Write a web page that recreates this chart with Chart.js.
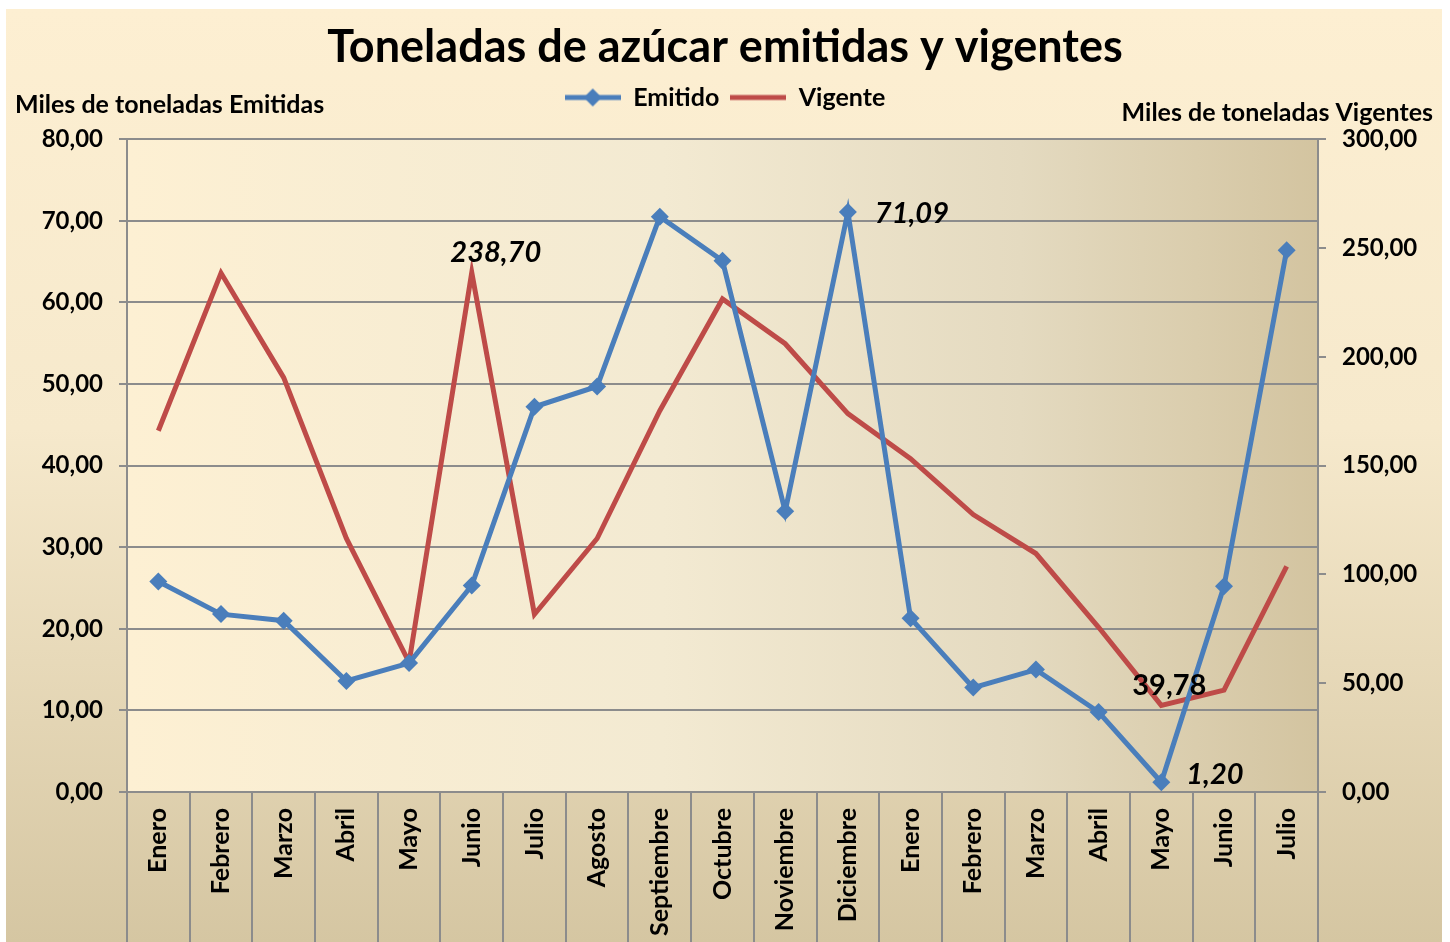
<!DOCTYPE html>
<html>
<head>
<meta charset="utf-8">
<script src="https://cdn.jsdelivr.net/npm/chart.js@4.4.0/dist/chart.umd.min.js"></script>
<style>
  html, body { margin: 0; padding: 0; background: #fff; }
</style>
</head>
<body>
<canvas id="myChart" width="1450" height="942"></canvas>
<script>
var meses = ['Enero', 'Febrero', 'Marzo', 'Abril', 'Mayo', 'Junio', 'Julio', 'Agosto',
  'Septiembre', 'Octubre', 'Noviembre', 'Diciembre',
  'Enero', 'Febrero', 'Marzo', 'Abril', 'Mayo', 'Junio', 'Julio'];

// miles de toneladas emitidas (eje izquierdo)
var emitido = [25.8, 21.8, 21.0, 13.6, 15.8, 25.3, 47.2, 49.7, 70.5, 65.1, 34.4, 71.09,
  21.3, 12.8, 15.0, 9.8, 1.20, 25.2, 66.4];

// miles de toneladas vigentes (eje derecho)
var vigente = [166.0, 238.5, 190.4, 116.5, 59.6, 238.70, 81.7, 116.5, 175.2, 226.6, 206.0, 173.9,
  153.2, 127.5, 109.6, 75.7, 39.78, 46.8, 103.7];

var ticksIzq = [0, 10, 20, 30, 40, 50, 60, 70, 80];
var ticksDer = [0, 50, 100, 150, 200, 250, 300];

var FONT = 'Lato';
var GRIS = '#8c8c8c';

function coma(v) {
  return v.toFixed(2).replace('.', ',');
}

// simbolos de la leyenda (linea + marcador)
function simbolo(color, rombo) {
  var c = document.createElement('canvas');
  c.width = 56; c.height = 20;
  var g = c.getContext('2d');
  g.strokeStyle = color;
  g.lineWidth = 5;
  g.beginPath(); g.moveTo(0, 10); g.lineTo(56, 10); g.stroke();
  if (rombo) {
    g.fillStyle = color;
    g.beginPath();
    g.moveTo(28, 1); g.lineTo(37, 10); g.lineTo(28, 19); g.lineTo(19, 10);
    g.closePath(); g.fill();
  }
  return c;
}

var fondo = {
  id: 'fondo',
  beforeDraw: function (chart) {
    var ctx = chart.ctx, a = chart.chartArea;
    ctx.save();
    ctx.fillStyle = '#fff';
    ctx.fillRect(0, 0, chart.width, chart.height);
    var g1 = ctx.createLinearGradient(0, 9, 0, chart.height);
    g1.addColorStop(0, '#fdefd2');
    g1.addColorStop(0.45, '#f6e9cc');
    g1.addColorStop(1, '#d5c6a2');
    ctx.fillStyle = g1;
    ctx.fillRect(6, 9, chart.width - 14, chart.height - 9);
    var g2 = ctx.createLinearGradient(a.left, 0, a.right, 0);
    g2.addColorStop(0, '#fdf0d3');
    g2.addColorStop(0.45, '#f3ead2');
    g2.addColorStop(0.75, '#e4dac0');
    g2.addColorStop(1, '#d3c4a0');
    ctx.fillStyle = g2;
    ctx.fillRect(a.left, a.top, a.right - a.left, a.bottom - a.top);
    ctx.restore();
  }
};

var extras = {
  id: 'extras',
  afterDatasetsDraw: function (chart) {
    var ctx = chart.ctx, a = chart.chartArea, x = chart.scales.x;
    ctx.save();
    // divisiones de categorias bajo el eje
    var paso = x.getPixelForValue(1) - x.getPixelForValue(0);
    ctx.strokeStyle = GRIS;
    ctx.lineWidth = 2;
    for (var i = 0; i <= meses.length; i++) {
      var px = Math.round(x.getPixelForValue(0) - paso / 2 + i * paso);
      ctx.beginPath();
      ctx.moveTo(px, a.bottom);
      ctx.lineTo(px, chart.height);
      ctx.stroke();
    }
    // titulos de ejes
    ctx.fillStyle = '#000';
    ctx.font = 'bold 25px ' + FONT;
    ctx.textBaseline = 'middle';
    ctx.textAlign = 'left';
    ctx.fillText('Miles de toneladas Emitidas', 15, 105);
    ctx.textAlign = 'right';
    ctx.fillText('Miles de toneladas Vigentes', 1433, 113);

    // etiquetas de datos
    var etiquetas = [
      { ds: 1, i: 5, texto: coma(vigente[5]), italic: true, dx: 24, dy: -20, align: 'center' },
      { ds: 0, i: 11, texto: coma(emitido[11]), italic: true, dx: 27, dy: 2, align: 'left' },
      { ds: 0, i: 16, texto: coma(emitido[16]), italic: true, dx: 25, dy: -8, align: 'left' },
      { ds: 1, i: 16, texto: coma(vigente[16]), italic: false, dx: 8, dy: -20, align: 'center' }
    ];
    etiquetas.forEach(function (e) {
      var p = chart.getDatasetMeta(e.ds).data[e.i];
      ctx.font = (e.italic ? 'italic ' : '') + 'bold 29px ' + FONT;
      ctx.textAlign = e.align;
      ctx.fillText(e.texto, p.x + e.dx, p.y + e.dy);
    });
    ctx.restore();
  }
};

var ctx = document.getElementById('myChart').getContext('2d');
var chart = new Chart(ctx, {
  type: 'line',
  data: {
    labels: meses,
    datasets: [{
      label: 'Emitido',
      data: emitido,
      yAxisID: 'y',
      borderColor: '#4a7ebb',
      backgroundColor: '#4a7ebb',
      borderWidth: 5,
      pointStyle: 'rectRot',
      pointRadius: 9,
      pointHoverRadius: 9,
      pointBorderWidth: 0,
      tension: 0
    }, {
      label: 'Vigente',
      data: vigente,
      yAxisID: 'y2',
      borderColor: '#be4b48',
      backgroundColor: '#be4b48',
      borderWidth: 5,
      pointRadius: 0,
      pointHoverRadius: 0,
      tension: 0
    }]
  },
  options: {
    responsive: false,
    devicePixelRatio: 1,
    animation: false,
    layout: { padding: { top: 9, left: 0, right: 0, bottom: 0 } },
    plugins: {
      title: {
        display: true,
        text: 'Toneladas de azúcar emitidas y vigentes',
        color: '#000',
        font: { family: FONT, size: 45, weight: 'bold' },
        padding: { top: 11, bottom: 0 }
      },
      // separador vacio entre leyenda y grafico
      subtitle: {
        display: true,
        text: ' ',
        weight: 500,
        font: { size: 1 },
        padding: { top: 0, bottom: 18 }
      },
      legend: {
        display: true,
        position: 'top',
        labels: {
          color: '#000',
          font: { family: FONT, size: 25, weight: 'bold' },
          usePointStyle: true,
          pointStyleWidth: 56,
          padding: 11,
          generateLabels: function (chart) {
            return chart.data.datasets.map(function (d, i) {
              return {
                text: d.label,
                fillStyle: d.borderColor,
                strokeStyle: d.borderColor,
                pointStyle: simbolo(d.borderColor, i === 0),
                datasetIndex: i,
                hidden: false,
                fontColor: '#000'
              };
            });
          }
        }
      },
      tooltip: { enabled: false }
    },
    scales: {
      x: {
        type: 'category',
        offset: true,
        afterFit: function (s) { s.height = 150; },
        grid: { offset: true, drawOnChartArea: false, color: GRIS, lineWidth: 2, tickLength: 0 },
        border: { color: GRIS, width: 2 },
        ticks: {
          color: '#000',
          font: { family: FONT, size: 25, weight: 'bold' },
          minRotation: 90,
          maxRotation: 90,
          autoSkip: false,
          padding: 16
        }
      },
      y: {
        position: 'left',
        min: 0,
        max: 80,
        afterFit: function (s) { s.width = 127; },
        afterBuildTicks: function (s) { s.ticks = ticksIzq.map(function (v) { return { value: v }; }); },
        grid: { color: GRIS, lineWidth: 2, tickLength: 8 },
        border: { color: GRIS, width: 2 },
        ticks: {
          color: '#000',
          font: { family: FONT, size: 24, weight: 'bold' },
          padding: 16,
          callback: function (v) { return coma(v); }
        }
      },
      y2: {
        position: 'right',
        min: 0,
        max: 300,
        afterFit: function (s) { s.width = 132; },
        afterBuildTicks: function (s) { s.ticks = ticksDer.map(function (v) { return { value: v }; }); },
        grid: { drawOnChartArea: false, color: GRIS, lineWidth: 2, tickLength: 8 },
        border: { color: GRIS, width: 2 },
        ticks: {
          color: '#000',
          font: { family: FONT, size: 24, weight: 'bold' },
          padding: 16,
          callback: function (v) { return coma(v); }
        }
      }
    }
  },
  plugins: [fondo, extras]
});
</script>
</body>
</html>
